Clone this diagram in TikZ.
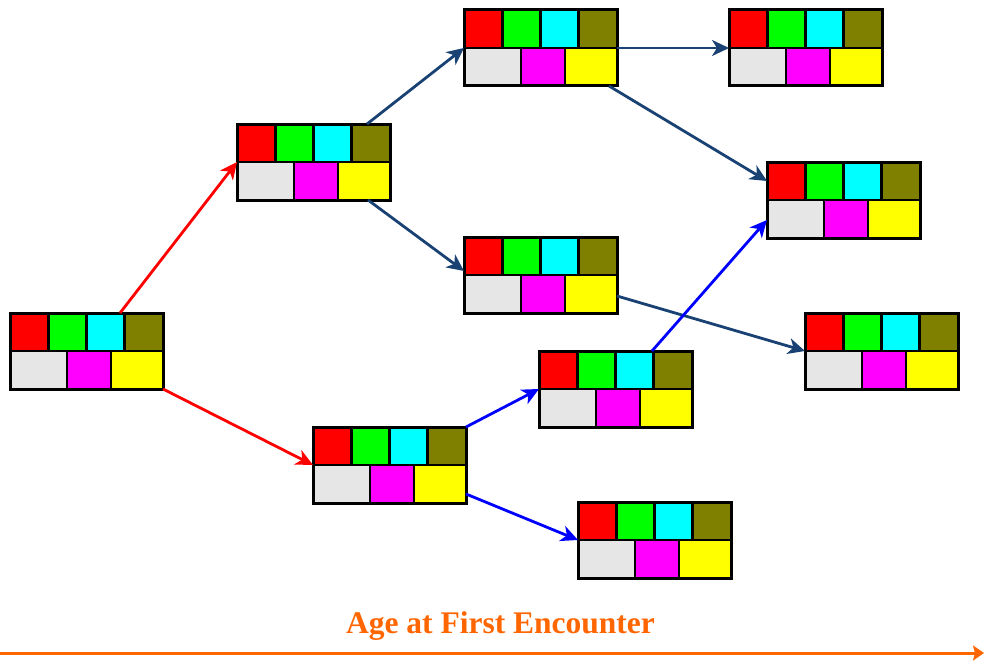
\documentclass[tikz,border=0pt]{standalone}
\usepackage{fontspec}
\setmainfont{Liberation Serif}
\usetikzlibrary{arrows.meta,calc}
\definecolor{cred}{RGB}{255,0,0}
\definecolor{cgreen}{RGB}{0,255,0}
\definecolor{ccyan}{RGB}{0,255,255}
\definecolor{colive}{RGB}{128,128,0}
\definecolor{cgray}{RGB}{230,230,230}
\definecolor{cmag}{RGB}{255,0,255}
\definecolor{cyel}{RGB}{255,255,0}
\definecolor{dblue}{RGB}{25,65,115}
\definecolor{pblue}{RGB}{0,0,255}
\definecolor{axorange}{RGB}{255,102,0}
\tikzset{
  blockbox/.style={draw=black, line width=3pt, rectangle, inner sep=0pt, outer sep=0pt,
    minimum width=153pt, minimum height=76pt, anchor=north west},
  cellline/.style={draw=black, line width=2.6pt},
  conn/.style={line width=2.8pt, -{Stealth[length=17pt,width=16pt,inset=5pt]}},
  redarrow/.style={conn, draw=cred},
  darrow/.style={conn, draw=dblue},
  barrow/.style={conn, draw=pblue},
  axarrow/.style={line width=3pt, draw=axorange, -{Stealth[length=11pt,width=15pt,inset=2pt]}},
  axlabel/.style={text=axorange, font=\fontsize{31.5}{36}\selectfont\bfseries, anchor=base, inner sep=0pt}
}
\newcommand\cellblock[3]{%
  \begin{scope}[shift={(#2,#3)}]
    \fill[cred] (0,0) rectangle (38.25,38);
    \fill[cgreen] (38.25,0) rectangle (76.5,38);
    \fill[ccyan] (76.5,0) rectangle (114.75,38);
    \fill[colive] (114.75,0) rectangle (153,38);
    \fill[cgray] (0,38) rectangle (57,76);
    \fill[cmag] (57,38) rectangle (101,76);
    \fill[cyel] (101,38) rectangle (153,76);
    \draw[cellline] (0,38) -- (153,38)
      (38.25,0) -- (38.25,38) (76.5,0) -- (76.5,38) (114.75,0) -- (114.75,38)
      (57,38) -- (57,76) (101,38) -- (101,76);
    \node[blockbox] (#1) at (0,0) {};
  \end{scope}%
}
\begin{document}
\begin{tikzpicture}[x=1pt,y=-1pt]
\useasboundingbox (0,0) rectangle (984,666);
\fill[white] (0,0) rectangle (984,666);

\cellblock{b1}{10}{313}
\cellblock{b2}{237}{124}
\cellblock{b3}{464}{10}
\cellblock{b4}{729}{10}
\cellblock{b5}{767}{162}
\cellblock{b6}{464}{237}
\cellblock{b7}{805}{313}
\cellblock{b8}{539}{351}
\cellblock{b9}{313}{427}
\cellblock{b10}{578}{502}

\draw[redarrow] ($(b1.north west)+(110,0)$) -- ($(b2.north west)+(0,38)$);
\draw[redarrow] (b1.south east) -- ($(b9.north west)+(0,38)$);
\draw[darrow] ($(b2.north west)+(130,0)$) -- ($(b3.north west)+(0,38)$);
\draw[darrow] ($(b2.north west)+(131,76)$) -- ($(b6.north west)+(0,34)$);
\draw[darrow] ($(b3.north west)+(153,38)$) -- ($(b4.north west)+(0,38)$);
\draw[darrow] ($(b3.north west)+(145,76)$) -- ($(b5.north west)+(0,19)$);
\draw[darrow] ($(b6.north west)+(153,59)$) -- ($(b7.north west)+(0,38)$);
\draw[barrow] (b9.north east) -- ($(b8.north west)+(0,38)$);
\draw[barrow] ($(b9.north west)+(153,67)$) -- ($(b10.north west)+(0,38)$);
\draw[barrow] ($(b8.north west)+(113,0)$) -- ($(b5.north west)+(0,58)$);

\coordinate (axs) at (0,653);
\coordinate (axe) at (984,653);
\draw[axarrow] (axs) -- (axe);
\node[axlabel] (lbl) at (500.5,633) {Age at First Encounter};
\end{tikzpicture}
\end{document}
